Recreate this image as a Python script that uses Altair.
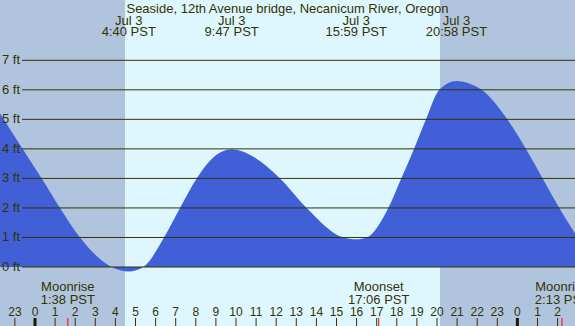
import altair as alt
import pandas as pd

# Tide height (ft) through the day, hours after local midnight (PST)
tide_hours = [-1.741, -0.612, 0.333, 1.244, 2.239, 3.816, 4.667, 5.388, 6.418,
              7.214, 8.045, 8.706, 9.783, 10.95, 12.189, 13.517, 15.338, 15.983,
              16.502, 17.577, 18.22, 18.856, 19.453, 20.114, 20.967, 21.64,
              22.224, 23.498, 24.428, 25.259, 26.085, 26.866]
tide_feet = [5.2, 4.0, 3.0, 2.0, 1.0, 0.0, -0.15, 0.0, 1.0,
             2.0, 3.0, 3.6, 3.99, 3.7, 3.0, 2.0, 1.0, 0.94,
             1.0, 2.0, 3.0, 4.0, 5.0, 6.0, 6.3, 6.21,
             6.0, 5.0, 4.0, 3.0, 2.0, 1.14]

# High / low tide times
extreme_dates = ["Jul\u00a03", "Jul\u00a03", "Jul\u00a03", "Jul\u00a03"]
extreme_times = ["4:40", "9:47", "15:59", "20:58"]

# Daylight span (hours)
daylight = [4.478, 20.149]

# Moon events: name, time, day offset
moon_names = ["Moonrise", "Moonset", "Moonrise"]
moon_times = ["1:38", "17:06", "2:13"]
moon_days = [0, 0, 1]

# Gridline levels (ft) and hour ticks
grid_levels = [0, 1, 2, 3, 4, 5, 6, 7]
tick_hours = list(range(-1, 27))

TITLE = "Seaside, 12th Avenue bridge, Necanicum River, Oregon"

W, H = 575, 326
X_DOMAIN = [-1.741, 26.866]
Y_DOMAIN = [-1.998, 9.042]

NIGHT = "#B0C4DE"
DAY = "#DEF7FF"
WATER = "#4160D8"
INK = "#333300"
FONT = "Liberation Sans"


def to_hours(t, day=0):
    h, m = t.split(":")
    return int(h) + int(m) / 60 + 24 * day


xs = alt.Scale(domain=X_DOMAIN, nice=False, zero=False)
ys = alt.Scale(domain=Y_DOMAIN, nice=False, zero=False)

tide_df = pd.DataFrame({"hour": tide_hours, "ft": tide_feet})
day_df = pd.DataFrame({"start": [daylight[0]], "end": [daylight[1]]})
grid_df = pd.DataFrame({"ft": grid_levels, "label": [f"{g} ft" for g in grid_levels]})
ext_df = pd.DataFrame({
    "hour": [to_hours(t) for t in extreme_times],
    "date": extreme_dates,
    "time": [f"{t} PST" for t in extreme_times],
})
moon_df = pd.DataFrame({
    "hour": [to_hours(t, d) for t, d in zip(moon_times, moon_days)],
    "name": moon_names,
    "time": [f"{t} PST" for t in moon_times],
})
tick_df = pd.DataFrame({
    "hour": tick_hours,
    "label": [str(h % 24) for h in tick_hours],
    "midnight": [h % 24 == 0 for h in tick_hours],
})

X = lambda f: alt.X(f, type="quantitative", scale=xs, axis=None)
Y = lambda f: alt.Y(f, type="quantitative", scale=ys, axis=None)

day_band = alt.Chart(day_df).mark_rect(color=DAY).encode(
    x=X("start"), x2="end", y=alt.value(0), y2=alt.value(H)
)

water = alt.Chart(tide_df).mark_area(color=WATER, interpolate="monotone").encode(
    x=X("hour"), y=Y("ft"), y2=alt.value(H)
)

grid = alt.Chart(grid_df).mark_rule(color=INK, strokeWidth=1).encode(
    x=alt.value(22), x2=alt.value(W), y=Y("ft")
)

grid_labels = alt.Chart(grid_df).mark_text(
    align="left", baseline="middle", font=FONT, fontSize=13, color=INK
).encode(x=alt.value(2), y=Y("ft"), text="label:N")

title = alt.Chart(pd.DataFrame({"t": [TITLE]})).mark_text(
    align="center", baseline="alphabetic", font=FONT, fontSize=13, color=INK
).encode(x=alt.value(287.5), y=alt.value(13), text="t:N")

ext_date = alt.Chart(ext_df).mark_text(
    align="center", baseline="alphabetic", font=FONT, fontSize=13, color=INK
).encode(x=X("hour"), y=alt.value(24.5), text="date:N")

ext_time = alt.Chart(ext_df).mark_text(
    align="center", baseline="alphabetic", font=FONT, fontSize=13, color=INK
).encode(x=X("hour"), y=alt.value(36), text="time:N")

moon_name = alt.Chart(moon_df).mark_text(
    align="center", baseline="alphabetic", font=FONT, fontSize=13, color=INK
).encode(x=X("hour"), y=alt.value(291), text="name:N")

moon_time = alt.Chart(moon_df).mark_text(
    align="center", baseline="alphabetic", font=FONT, fontSize=13, color=INK
).encode(x=X("hour"), y=alt.value(303.5), text="time:N")

hour_labels = alt.Chart(tick_df).mark_text(
    align="center", baseline="alphabetic", font=FONT, fontSize=12, color=INK
).encode(x=X("hour"), y=alt.value(315.5), text="label:N")

hour_ticks = alt.Chart(tick_df).mark_rule(color=INK, strokeWidth=1).encode(
    x=X("hour"), y=alt.value(318), y2=alt.value(H)
).transform_filter("!datum.midnight")

midnight_ticks = alt.Chart(tick_df).mark_rule(color="#1a1a00", strokeWidth=3).encode(
    x=X("hour"), y=alt.value(318), y2=alt.value(H)
).transform_filter("datum.midnight")

moon_ticks = alt.Chart(moon_df).mark_rule(color="#FF0000", strokeWidth=1).encode(
    x=X("hour"), y=alt.value(318), y2=alt.value(H)
)

chart = alt.layer(
    day_band, water, grid, grid_labels, title, ext_date, ext_time,
    moon_name, moon_time, hour_labels, hour_ticks, midnight_ticks, moon_ticks
).properties(
    width=W, height=H, padding=0, background=NIGHT,
    autosize=alt.AutoSizeParams(type="none"),
).configure_view(stroke=None)

chart.save("out.html", embed_options={"renderer": "svg", "actions": False})
